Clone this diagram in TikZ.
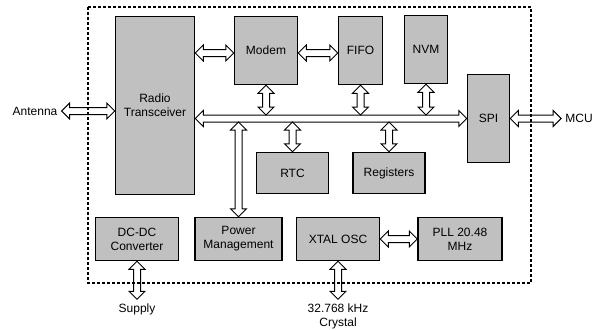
\documentclass[tikz,border=0pt]{standalone}
\usepackage{fontspec}
\setmainfont{Liberation Sans}
\usepackage{tikz}
\usetikzlibrary{
        calc,
        positioning
    }
\definecolor{blockgray}{RGB}{192,192,192}
\tikzset{every node/.style={font=\fontsize{12bp}{14bp}\selectfont}}
\tikzset{block/.style={draw,line width=1.5bp,fill=blockgray,align=center,inner sep=2bp}}
\tikzset{port/.style={align=center,inner sep=4bp}}
\tikzset{frame/.style={draw,line width=1.5bp,dash pattern=on 3bp off 2bp}}
\tikzset{dbl/.style={draw,fill=white,line width=1bp,line join=miter,
    to path={let \p1=(\tikztostart), \p2=(\tikztotarget),
        \n1={atan2(\y2-\y1,\x2-\x1)} in
        (\p1) -- ($(\p1)+(\n1:8bp)+(\n1+90:8bp)$) -- ($(\p1)+(\n1:8bp)+(\n1+90:3.5bp)$)
        -- ($(\p2)+(\n1+180:8bp)+(\n1+90:3.5bp)$) -- ($(\p2)+(\n1+180:8bp)+(\n1+90:8bp)$)
        -- (\p2) -- ($(\p2)+(\n1+180:8bp)+(\n1-90:8bp)$) -- ($(\p2)+(\n1+180:8bp)+(\n1-90:3.5bp)$)
        -- ($(\p1)+(\n1:8bp)+(\n1-90:3.5bp)$) -- ($(\p1)+(\n1:8bp)+(\n1-90:8bp)$) -- cycle}}}

\begin{document}
\begin{tikzpicture}[x=1bp,y=-1bp]
				\useasboundingbox (0,0) rectangle (598,329);
				\draw[frame] (88,7) rectangle (531,283);
				% blocks
				\node[block, minimum width=79bp, minimum height=178bp] (radio) at (155,105.5) {Radio\\Transceiver};
				\node[block, minimum width=63bp, minimum height=68bp] (modem) at (266,50.5) {Modem};
				\node[block, minimum width=44bp, minimum height=68bp] (fifo) at (360.5,50.5) {FIFO};
				\node[block, minimum width=43bp, minimum height=68bp] (nvm) at (426,49.5) {NVM};
				\node[block, minimum width=42bp, minimum height=88bp] (spi) at (488.5,118.5) {SPI};
				\node[block, minimum width=72bp, minimum height=41bp] (rtc) at (292.5,173) {RTC};
				\node[block, minimum width=72bp, minimum height=41bp] (reg) [right=23bp of rtc] {Registers};
				\node[block, minimum width=83bp, minimum height=43bp] (dcdc) at (137,239) {DC-DC\\Converter};
				\node[block, minimum width=87bp, minimum height=43bp] (pm) [right=15bp of dcdc] {Power\\Management};
				\node[block, minimum width=83bp, minimum height=43bp] (xtal) [right=13bp of pm] {XTAL OSC};
				\node[block, minimum width=84bp, minimum height=43bp] (pll) [right=37bp of xtal] {PLL 20.48\\MHz};
				% outside
				\node[port] (ant) at (35,111) {Antenna};
				\node[port] (mcu) at (579,118) {MCU};
				\node[port] (sup) [below=38bp of dcdc] {Supply};
				\node[port] (cry) [below=38bp of xtal] {32.768 kHz\\Crystal};
				\coordinate (bustop) at ([yshift=3.5bp]spi.west);
				\coordinate (busbot) at ([yshift=-3.5bp]spi.west);
				\coordinate (mleft) at ([yshift=-2.5bp]modem.west);
				\coordinate (mright) at ([yshift=-2.5bp]modem.east);
				\path[dbl]
					(radio.east |- spi.west)  edge  (spi.west)
					(modem.south)  edge  (modem.south |- bustop)
					(fifo.south)  edge  (fifo.south |- bustop)
					(nvm.south)  edge  (nvm.south |- bustop)
					(rtc.north)  edge  (rtc.north |- busbot)
					(reg.north)  edge  (reg.north |- busbot)
					(pm.north)  edge  (pm.north |- busbot)
					(radio.east |- mleft)  edge  (mleft)
					(mright)  edge  (fifo.west |- mright)
					(xtal.east)  edge  (pll.west)
					(ant.east)  edge  (radio.west |- ant.east)
					(spi.east)  edge  (spi.east -| mcu.west)
					(dcdc.south)  edge  (sup.north)
					(xtal.south)  edge  (xtal.south |- cry.north);
\end{tikzpicture}
\end{document}
